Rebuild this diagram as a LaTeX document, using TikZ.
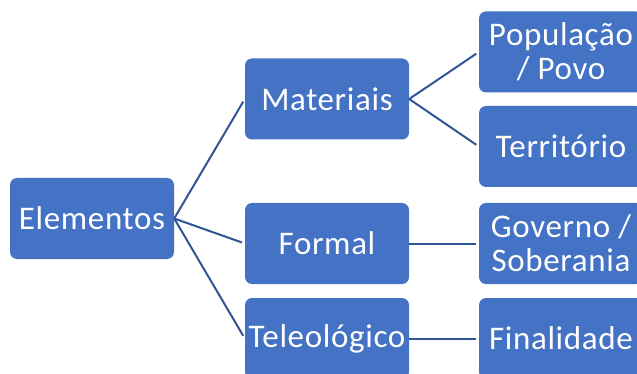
\documentclass[tikz,border=0pt]{standalone}
\usepackage{fontspec}
\setmainfont{Carlito}
\newfontfamily\caixafonte[LetterSpace=2]{Carlito}
\definecolor{azulcaixa}{HTML}{4472C4}
\definecolor{azullinha}{HTML}{2F5597}

\begin{document}
\begin{tikzpicture}[x=1pt,y=-1pt,
  caixa/.style={fill=azulcaixa,text=white,rounded corners=7pt,
    minimum width=164pt,minimum height=81pt,inner sep=0pt,align=center,
    font=\caixafonte\fontsize{33}{34}\selectfont},
  liga/.style={draw=azullinha,line width=2pt,shorten >=3pt}]
  \useasboundingbox (0,0) rectangle (637,374);
  \clip (0,0) rectangle (637,374);
  % raiz
  \node[caixa] (elem) at (92,218.5) {Elementos};
  % segundo nivel
  \node[caixa] (mat) at (327,99) {Materiais};
  \node[caixa] (form) at (327,243.5) {Formal};
  \node[caixa] (tel) at (327,338.5) {Teleológico};
  % terceiro nivel
  \node[caixa] (pop) at (561,52) {População\\/ Povo};
  \node[caixa] (terr) at (561,146.5) {Território};
  \node[caixa] (gov) at (561,243.5) {Governo /\\Soberania};
  \node[caixa] (fin) at (561,338.5) {Finalidade};
  % ligacoes
  \foreach \a/\b in {elem/mat,elem/form,elem/tel,mat/pop,mat/terr,form/gov,tel/fin}
    \draw[liga] (\a.east) -- (\b.west);
\end{tikzpicture}
\end{document}
